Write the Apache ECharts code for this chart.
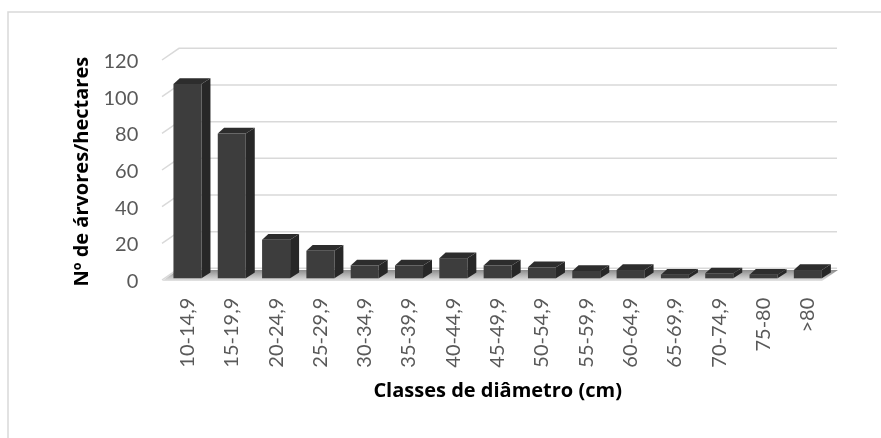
<!DOCTYPE html>
<html>
<head>
<meta charset="utf-8">
<script src="https://cdn.jsdelivr.net/npm/echarts@6/dist/echarts.min.js"></script>
<style>html,body{margin:0;padding:0;background:#fff;}#chart{width:881px;height:438px;}</style>
</head>
<body>
<div id="chart"></div>
<script>
const categories = ['10-14,9','15-19,9','20-24,9','25-29,9','30-34,9','35-39,9','40-44,9','45-49,9','50-54,9','55-59,9','60-64,9','65-69,9','70-74,9','75-80','>80'];
const values = [106, 79, 21, 15, 7, 7, 11, 7, 6, 4, 4.5, 2, 2.7, 2, 4.5];
const yTicks = [0, 20, 40, 60, 80, 100, 120];

const FONT = 'Lato';
const TITLE_FONT = 'Open Sans';
const chart = echarts.init(document.getElementById('chart'), null, {renderer: 'canvas'});

const DEPTH_X = 17, DEPTH_Y = -11.7;

function renderGrid(params, api) {
  const v = api.value(1);
  const p = api.coord([0, v]);
  const band = api.size([1, 0])[0];
  const n = categories.length;
  const left = p[0] - band / 2 - 3.3;
  const right = p[0] - band / 2 + band * n + 7;
  const y = p[1] - 1.7;
  return {
    type: 'polyline',
    shape: {points: [[left, y], [left + DEPTH_X, y + DEPTH_Y], [right, y + DEPTH_Y]]},
    style: {stroke: '#d9d9d9', lineWidth: 1.5, fill: null}
  };
}

function renderFloor(params, api) {
  const p = api.coord([0, 0]);
  const band = api.size([1, 0])[0];
  const n = categories.length;
  const left = p[0] - band / 2 - 3.3;
  const right = p[0] - band / 2 + band * n - 8;
  const y = p[1] - 0.7;
  return {
    type: 'polygon',
    shape: {points: [[left, y], [right, y], [right + 16, y - 11], [left + 16, y - 11]]},
    style: {
      fill: new echarts.graphic.LinearGradient(0, 0, 0, 1, [
        {offset: 0, color: '#8c8c8c'},
        {offset: 1, color: '#e3e3e3'}
      ])
    }
  };
}

function renderBar(params, api) {
  const idx = api.value(0), v = api.value(1);
  const base = api.coord([idx, 0]);
  const top = api.coord([idx, v]);
  const band = api.size([1, 0])[0];
  const w = band * 0.632;
  const dx = 9, dy = -5.7, lift = 3.4;
  const x0 = base[0] - w / 2, x1 = base[0] + w / 2;
  const yb = base[1] - lift, yt = top[1] - lift;
  return {
    type: 'group',
    children: [
      {type: 'polygon', shape: {points: [[x1, yb], [x1 + dx, yb + dy], [x1 + dx, yt + dy], [x1, yt]]}, style: {fill: '#272727'}},
      {type: 'polygon', shape: {points: [[x0, yt], [x1, yt], [x1 + dx, yt + dy], [x0 + dx * 0.7, yt + dy]]}, style: {fill: '#2d2d2d'}},
      {type: 'polygon', shape: {points: [[x0, yb], [x1, yb], [x1, yt], [x0, yt]]}, style: {fill: '#3d3d3d'}}
    ]
  };
}

const option = {
  animation: false,
  backgroundColor: '#ffffff',
  textStyle: {fontFamily: FONT},
  graphic: [{
    type: 'rect',
    shape: {x: 8, y: 12, width: 900, height: 450},
    style: {fill: null, stroke: '#d9d9d9', lineWidth: 1.5},
    z: -10
  }],
  grid: {left: 165.3, right: 51, top: 61.7, bottom: 156.3, containLabel: false},
  xAxis: {
    type: 'category',
    data: categories,
    axisLine: {show: false},
    axisTick: {show: false},
    axisLabel: {rotate: 90, interval: 0, margin: 16, color: '#595959', fontSize: 20, fontFamily: FONT},
    name: 'Classes de diâmetro (cm)',
    nameLocation: 'middle',
    nameGap: 100,
    nameTextStyle: {fontWeight: 'bold', fontSize: 20, color: '#000000', fontFamily: TITLE_FONT}
  },
  yAxis: {
    type: 'value',
    min: 0, max: 120, interval: 20,
    axisLine: {show: false},
    axisTick: {show: false},
    splitLine: {show: false},
    axisLabel: {margin: 27, color: '#595959', fontSize: 20, fontFamily: FONT},
    name: 'Nº de árvores/hectares',
    nameLocation: 'middle',
    nameRotate: 90,
    nameGap: 72,
    nameTextStyle: {fontWeight: 'bold', fontSize: 20, color: '#000000', fontFamily: TITLE_FONT}
  },
  series: [
    {
      type: 'custom',
      renderItem: renderGrid,
      data: yTicks.map(v => [0, v]),
      encode: {x: 0, y: 1},
      silent: true,
      z: 1
    },
    {
      type: 'custom',
      renderItem: renderFloor,
      data: [[0, 0]],
      encode: {x: 0, y: 1},
      silent: true,
      z: 2
    },
    {
      type: 'custom',
      renderItem: renderBar,
      data: values.map((v, i) => [i, v]),
      encode: {x: 0, y: 1},
      z: 3
    }
  ]
};
chart.setOption(option);
</script>
</body>
</html>
